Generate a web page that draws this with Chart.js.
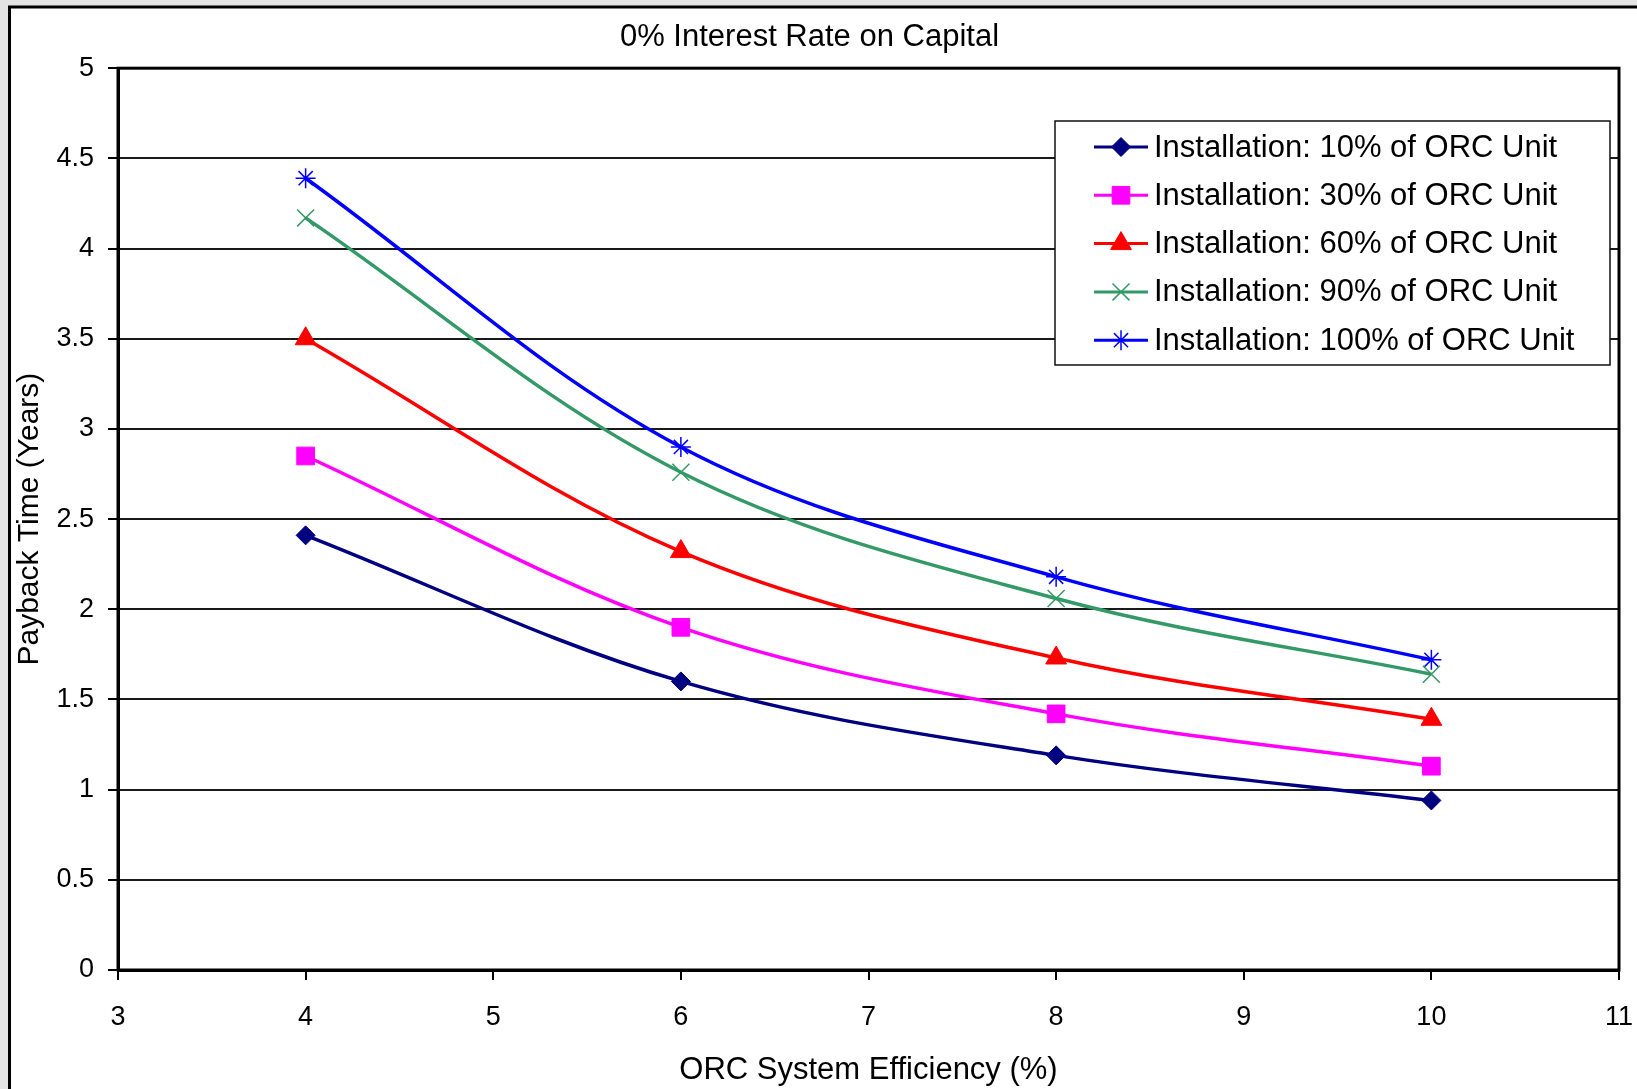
<!DOCTYPE html>
<html>
<head>
<meta charset="utf-8">
<script src="https://cdn.jsdelivr.net/npm/chart.js@4.4.0/dist/chart.umd.min.js"></script>
<style>
  html, body { margin: 0; padding: 0; background: #e4e4e4; overflow: hidden; }
  canvas { display: block; }
</style>
</head>
<body>
<canvas id="payback" width="1637" height="1089"></canvas>
<script>

// ORC system efficiency (%) on the x axis
const efficiency = [4, 6, 8, 10];

// payback time (years), one list per installation cost share
const inst10  = [2.41, 1.60, 1.19, 0.94];
const inst30  = [2.85, 1.90, 1.42, 1.13];
const inst60  = [3.50, 2.32, 1.73, 1.39];
const inst90  = [4.17, 2.76, 2.06, 1.64];
const inst100 = [4.39, 2.90, 2.18, 1.72];

const seriesNames = [
    'Installation: 10% of ORC Unit',
    'Installation: 30% of ORC Unit',
    'Installation: 60% of ORC Unit',
    'Installation: 90% of ORC Unit',
    'Installation: 100% of ORC Unit'
];

const FONT = "'Liberation Sans', Arial, sans-serif";

function pts (ys) {
    return efficiency.map((x, i) => ({ x: x, y: ys[i] }));
}

function series (label, ys, color, style, radius, bw) {
    return {
        label,
        data: pts(ys),
        borderColor: color,
        backgroundColor: color,
        borderWidth: 3.5,
        tension: 0.35,
        pointStyle: style,
        pointRadius: radius,
        pointHoverRadius: radius,
        pointBackgroundColor: color,
        pointBorderColor: color,
        pointBorderWidth: bw
    };
}

// grey page edge + black frame of the chart object
const pageFrame = {
    id: 'pageFrame',
    beforeDraw (chart) {
        const ctx = chart.ctx;
        ctx.save();
        ctx.fillStyle = '#e4e4e4';
        ctx.fillRect(0, 0, chart.width, chart.height);
        ctx.fillStyle = '#ffffff';
        ctx.fillRect(9, 6, chart.width - 9, chart.height - 6);
        ctx.strokeStyle = '#000';
        ctx.lineWidth = 3;
        ctx.beginPath();
        ctx.moveTo(9.5, chart.height);
        ctx.lineTo(9.5, 7);
        ctx.lineTo(chart.width, 7);
        ctx.stroke();
        ctx.restore();
    }
};

// box round the plot area, then the legend on top
const plotBox = {
    id: 'plotBox',
    afterDraw (chart) {
        const ctx = chart.ctx;
        const a = chart.chartArea;
        ctx.save();
        ctx.strokeStyle = '#000';
        ctx.lineWidth = 3;
        ctx.strokeRect(a.left, a.top, a.right - a.left, a.bottom - a.top);

        // legend box
        const bx = 1055, by = 121, bw = 555, bh = 244;
        ctx.fillStyle = '#fff';
        ctx.fillRect(bx, by, bw, bh);
        ctx.lineWidth = 1.5;
        ctx.strokeStyle = '#111';
        ctx.strokeRect(bx, by, bw, bh);

        chart.data.datasets.forEach((ds, i) => {
            const y = 147 + i * 48.3;
            ctx.strokeStyle = ds.borderColor;
            ctx.lineWidth = 3;
            ctx.beginPath();
            ctx.moveTo(1094, y);
            ctx.lineTo(1148, y);
            ctx.stroke();
            if (Chart.helpers && Chart.helpers.drawPoint) {
                ctx.fillStyle = ds.pointBackgroundColor;
                ctx.strokeStyle = ds.pointBorderColor;
                ctx.lineWidth = ds.pointBorderWidth;
                Chart.helpers.drawPoint(ctx, {
                    pointStyle: ds.pointStyle,
                    radius: ds.pointRadius,
                    rotation: 0,
                    borderWidth: ds.pointBorderWidth
                }, 1121, y);
            }
            ctx.fillStyle = '#000';
            ctx.font = '31px ' + FONT;
            ctx.textBaseline = 'middle';
            ctx.textAlign = 'left';
            ctx.fillText(ds.label, 1154, y + 1);
        });
        ctx.restore();
    }
};

new Chart(document.getElementById('payback').getContext('2d'), {
    type: 'line',
    plugins: [pageFrame, plotBox],
    data: {
        datasets: [
            series(seriesNames[0], inst10,  '#000080', 'rectRot',  9.5, 1),
            series(seriesNames[1], inst30,  '#ff00ff', 'rect',     12.5, 1),
            series(seriesNames[2], inst60,  '#ff0000', 'triangle', 12, 1),
            series(seriesNames[3], inst90,  '#339966', 'crossRot', 12, 1.5),
            series(seriesNames[4], inst100, '#0000ff', 'star',     10, 1.5)
        ]
    },
    options: {
        responsive: false,
        animation: false,
        devicePixelRatio: 1,
        layout: {
            padding: { top: 0, right: 18, bottom: 0, left: 0 }
        },
        plugins: {
            legend: { display: false },
            tooltip: { enabled: false },
            title: {
                display: true,
                text: '0% Interest Rate on Capital',
                color: '#000',
                font: { family: FONT, size: 31, weight: 'normal' },
                padding: { top: 19, bottom: 12 }
            }
        },
        scales: {
            x: {
                type: 'linear',
                min: 3,
                max: 11,
                afterFit: (scale) => {
                    scale.height = 119;
                    // the "11" label may hang into the right margin
                    scale.paddingRight = 0;
                },
                ticks: {
                    stepSize: 1,
                    color: '#000',
                    padding: 21,
                    font: { family: FONT, size: 27 }
                },
                grid: {
                    drawOnChartArea: false,
                    tickLength: 10,
                    tickColor: '#000',
                    lineWidth: 2
                },
                border: { color: '#000', width: 3 },
                title: {
                    display: true,
                    text: 'ORC System Efficiency (%)',
                    color: '#000',
                    font: { family: FONT, size: 31 },
                    padding: { top: 0, bottom: 0 }
                }
            },
            y: {
                min: 0,
                max: 5,
                afterFit: (scale) => { scale.width = 118; },
                ticks: {
                    stepSize: 0.5,
                    color: '#000',
                    padding: 14,
                    font: { family: FONT, size: 27 },
                    callback: (v) => String(Math.round(v * 10) / 10)
                },
                grid: {
                    color: '#1a1a1a',
                    lineWidth: 2,
                    tickLength: 10,
                    tickColor: '#000'
                },
                border: { color: '#000', width: 3 },
                title: {
                    display: true,
                    text: 'Payback Time (Years)',
                    color: '#000',
                    font: { family: FONT, size: 30 },
                    padding: { top: 12, bottom: 0 }
                }
            }
        }
    }
});
</script>
</body>
</html>
